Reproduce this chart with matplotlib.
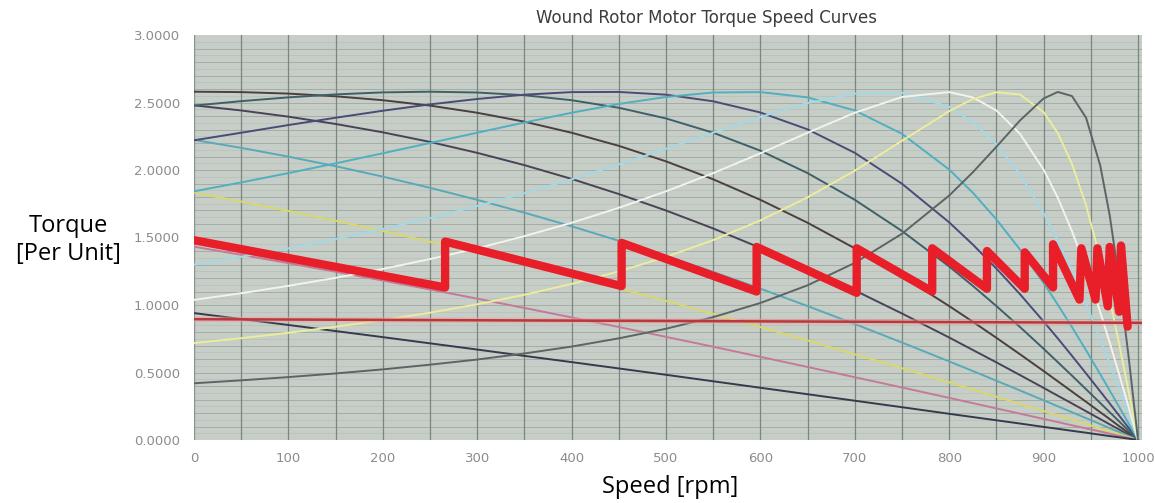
import matplotlib
matplotlib.use("Agg")
import matplotlib.pyplot as plt
import numpy as np

# ---------------- data ----------------
speed = [0, 50, 100, 150, 200, 250, 300, 350, 400, 450, 500, 550, 600, 650, 700,
         750, 800, 825, 850, 875, 900, 915, 930, 945, 960, 970, 980, 990, 1000]

# descending curves (high rotor resistance)
curve_brown = [2.580, 2.577, 2.566, 2.546, 2.517, 2.477, 2.424, 2.358, 2.276, 2.179, 2.064, 1.931, 1.779, 1.609, 1.420,
               1.214, 0.992, 0.876, 0.757, 0.635, 0.511, 0.435, 0.359, 0.283, 0.206, 0.155, 0.103, 0.052, 0.0]
curve_plum = [2.479, 2.441, 2.395, 2.341, 2.279, 2.208, 2.127, 2.036, 1.934, 1.822, 1.700, 1.567, 1.423, 1.270, 1.108,
              0.937, 0.759, 0.667, 0.575, 0.481, 0.386, 0.328, 0.271, 0.213, 0.155, 0.116, 0.078, 0.039, 0.0]
curve_teal_d = [2.223, 2.164, 2.099, 2.028, 1.951, 1.868, 1.779, 1.684, 1.583, 1.476, 1.363, 1.245, 1.121, 0.992, 0.859,
                0.722, 0.582, 0.511, 0.439, 0.367, 0.294, 0.250, 0.206, 0.162, 0.118, 0.088, 0.059, 0.030, 0.0]
curve_yellow_d = [1.832, 1.766, 1.696, 1.624, 1.548, 1.469, 1.387, 1.302, 1.214, 1.124, 1.030, 0.935, 0.837, 0.737, 0.635,
                  0.532, 0.427, 0.374, 0.321, 0.268, 0.215, 0.183, 0.150, 0.118, 0.086, 0.065, 0.043, 0.022, 0.0]
curve_pink = [1.432, 1.372, 1.310, 1.246, 1.181, 1.115, 1.047, 0.978, 0.908, 0.837, 0.764, 0.691, 0.616, 0.541, 0.465,
              0.389, 0.312, 0.273, 0.234, 0.195, 0.156, 0.133, 0.109, 0.086, 0.063, 0.047, 0.031, 0.016, 0.0]
curve_navy = [0.940, 0.896, 0.852, 0.807, 0.762, 0.716, 0.670, 0.623, 0.577, 0.530, 0.483, 0.435, 0.387, 0.339, 0.291,
              0.243, 0.194, 0.170, 0.146, 0.122, 0.097, 0.083, 0.068, 0.054, 0.039, 0.029, 0.020, 0.010, 0.0]
# rising curves (low rotor resistance)
curve_slate = [2.477, 2.510, 2.538, 2.560, 2.575, 2.580, 2.574, 2.554, 2.517, 2.461, 2.382, 2.276, 2.143, 1.977, 1.779,
               1.548, 1.285, 1.142, 0.992, 0.837, 0.676, 0.577, 0.477, 0.376, 0.274, 0.206, 0.138, 0.069, 0.0]
curve_indigo = [2.220, 2.276, 2.333, 2.387, 2.439, 2.486, 2.526, 2.558, 2.577, 2.578, 2.558, 2.509, 2.426, 2.301, 2.127,
                1.898, 1.612, 1.448, 1.270, 1.080, 0.878, 0.753, 0.624, 0.493, 0.360, 0.271, 0.181, 0.091, 0.0]
curve_cyan = [1.842, 1.908, 1.977, 2.049, 2.124, 2.200, 2.276, 2.352, 2.424, 2.489, 2.541, 2.574, 2.577, 2.538, 2.441,
              2.268, 2.003, 1.832, 1.634, 1.411, 1.163, 1.003, 0.837, 0.664, 0.487, 0.367, 0.245, 0.123, 0.0]
curve_ltcyan = [1.299, 1.357, 1.420, 1.489, 1.563, 1.644, 1.733, 1.828, 1.931, 2.041, 2.157, 2.276, 2.393, 2.496, 2.566,
                2.572, 2.468, 2.355, 2.191, 1.967, 1.681, 1.478, 1.254, 1.009, 0.748, 0.566, 0.380, 0.191, 0.0]
curve_white = [1.038, 1.087, 1.142, 1.201, 1.267, 1.340, 1.420, 1.510, 1.609, 1.720, 1.842, 1.977, 2.124, 2.276, 2.424,
               2.541, 2.577, 2.538, 2.441, 2.268, 2.003, 1.795, 1.548, 1.265, 0.948, 0.722, 0.487, 0.245, 0.0]
curve_ltyellow = [0.718, 0.754, 0.794, 0.839, 0.888, 0.943, 1.005, 1.076, 1.156, 1.249, 1.356, 1.481, 1.627, 1.798, 1.995,
                  2.216, 2.436, 2.525, 2.576, 2.559, 2.429, 2.274, 2.046, 1.738, 1.347, 1.044, 0.713, 0.362, 0.0]
curve_grey = [0.420, 0.442, 0.466, 0.493, 0.523, 0.558, 0.596, 0.641, 0.692, 0.753, 0.824, 0.910, 1.015, 1.146, 1.312,
              1.528, 1.811, 1.983, 2.172, 2.367, 2.530, 2.578, 2.548, 2.387, 2.033, 1.665, 1.188, 0.620, 0.0]

# load torque line
load_speed = [0, 1004]
load_torque = [0.895, 0.868]

# accelerating torque (resistance steps) – thick red sawtooth
saw_speed = [0, 266, 266, 453, 453, 596, 596, 702, 702, 782, 782, 840, 840, 880, 880, 910, 910,
             938, 940, 955, 957, 968, 970, 980, 982, 989]
saw_torque = [1.48, 1.13, 1.47, 1.14, 1.46, 1.10, 1.43, 1.09, 1.42, 1.10, 1.42, 1.12, 1.40, 1.12, 1.39, 1.13, 1.45,
              1.04, 1.42, 1.04, 1.42, 0.99, 1.43, 0.95, 1.44, 0.84]

x_ticks = [0, 100, 200, 300, 400, 500, 600, 700, 800, 900, 1000]
y_ticks = [0.0, 0.5, 1.0, 1.5, 2.0, 2.5, 3.0]

title = "Wound Rotor Motor Torque Speed Curves"
xlabel = "Speed [rpm]"
ylabel = "Torque\n[Per Unit]"

# ---------------- drawing ----------------
W, H = 1155, 503
fig = plt.figure(figsize=(W / 100, H / 100), dpi=100)
fig.patch.set_facecolor("white")

left, right, top, bottom = 194, 1142, 35, 440
ax = fig.add_axes([left / W, 1 - bottom / H, (right - left) / W, (bottom - top) / H])
ax.set_facecolor("#c6cec7")
ax.set_xlim(0, 1000 * (right - left) / (1138 - left))
ax.set_ylim(0, 3)

# paper-like grid
for yv in np.arange(0.05, 3.0, 0.05):
    major = abs(round(yv / 0.1) * 0.1 - yv) < 1e-6
    ax.axhline(yv, color="#a3ada6" if major else "#b6bfb8", lw=0.7 if major else 0.5, zorder=1)
for xv in range(50, 1001, 50):
    ax.axvline(xv, color="#7a8680", lw=0.9, zorder=1)
ax.axvline(0, color="#8a948e", lw=1.0, zorder=1)

curves = [
    (curve_brown, "#4b3f3f"),
    (curve_plum, "#4a4358"),
    (curve_teal_d, "#5aa9b8"),
    (curve_yellow_d, "#d8d86c"),
    (curve_pink, "#c47a98"),
    (curve_navy, "#363a4c"),
    (curve_slate, "#3f6068"),
    (curve_indigo, "#4b4b78"),
    (curve_cyan, "#50afc0"),
    (curve_ltcyan, "#a3d9e6"),
    (curve_white, "#f3f3ee"),
    (curve_ltyellow, "#ecec9e"),
    (curve_grey, "#5c6565"),
]
for vals, col in curves:
    ax.plot(speed, vals, color=col, lw=1.4, zorder=3)

ax.plot(load_speed, load_torque, color="#f2a0a0", lw=4.0, alpha=0.5, zorder=3.5)
ax.plot(load_speed, load_torque, color="#b8383c", lw=1.8, zorder=4)
ax.plot(saw_speed, saw_torque, color="#e81e28", lw=6.0, zorder=5,
        solid_joinstyle="round", solid_capstyle="round")

for s in ax.spines.values():
    s.set_visible(False)
ax.set_xticks(x_ticks)
ax.set_yticks(y_ticks)
ax.set_xticklabels([str(v) for v in x_ticks])
ax.set_yticklabels([f"{v:.4f}" for v in y_ticks])
ax.tick_params(length=0, labelsize=9.5, labelcolor="#8c8c8c", pad=9)
ax.tick_params(axis="y", pad=10)

fig.text(707 / W, 1 - 18 / H, title, ha="center", va="center", fontsize=12, color="#3c3c3c")
fig.text(68 / W, 1 - 240 / H, ylabel, ha="center", va="center", fontsize=17,
         family="Open Sans", color="black", linespacing=1.25)
fig.text(670 / W, 1 - 487 / H, xlabel, ha="center", va="center", fontsize=17,
         family="Open Sans", color="black")

fig.savefig("out.png", dpi=100)
